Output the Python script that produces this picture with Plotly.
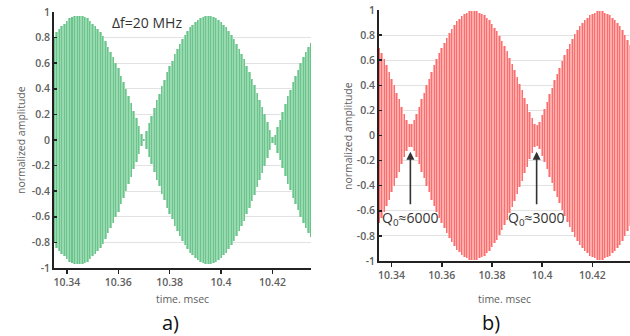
import numpy as np
import plotly.graph_objects as go

# time axis (msec), one sample per ~carrier cycle shown
time_a = [round(10.335 + 0.001 * k, 4) for k in range(101)]
time_b = [round(10.335 + 0.001 * k, 4) for k in range(101)]

# envelope amplitude read from panel a) (green)
amp_a = [0.80, 0.84, 0.87, 0.89, 0.91, 0.93, 0.95, 0.96, 0.97, 0.97,
         0.97, 0.97, 0.96, 0.95, 0.93, 0.91, 0.89, 0.87, 0.84, 0.81,
         0.77, 0.73, 0.69, 0.65, 0.60, 0.56, 0.50, 0.45, 0.40, 0.34,
         0.29, 0.23, 0.17, 0.11, 0.05, 0.01, 0.07, 0.13, 0.19, 0.25,
         0.31, 0.36, 0.42, 0.47, 0.53, 0.58, 0.62, 0.67, 0.71, 0.75,
         0.79, 0.82, 0.85, 0.88, 0.90, 0.92, 0.94, 0.95, 0.96, 0.97,
         0.97, 0.97, 0.96, 0.95, 0.94, 0.92, 0.90, 0.88, 0.85, 0.82,
         0.79, 0.75, 0.71, 0.67, 0.63, 0.58, 0.53, 0.48, 0.43, 0.37,
         0.31, 0.26, 0.20, 0.14, 0.08, 0.02, 0.04, 0.10, 0.16, 0.22,
         0.28, 0.34, 0.39, 0.45, 0.50, 0.55, 0.60, 0.65, 0.69, 0.73,
         0.76]

# envelope amplitude read from panel b) (red)
amp_b = [0.70, 0.66, 0.61, 0.56, 0.51, 0.45, 0.40, 0.34, 0.29, 0.23,
         0.17, 0.12, 0.09, 0.09, 0.12, 0.17, 0.23, 0.29, 0.34, 0.40,
         0.45, 0.51, 0.56, 0.61, 0.66, 0.70, 0.74, 0.78, 0.82, 0.85,
         0.88, 0.91, 0.93, 0.95, 0.97, 0.98, 0.99, 0.99, 0.99, 0.99,
         0.98, 0.97, 0.96, 0.94, 0.92, 0.89, 0.86, 0.83, 0.79, 0.75,
         0.71, 0.67, 0.62, 0.57, 0.52, 0.47, 0.41, 0.36, 0.30, 0.25,
         0.19, 0.14, 0.09, 0.08, 0.11, 0.16, 0.21, 0.27, 0.33, 0.38,
         0.44, 0.49, 0.54, 0.59, 0.64, 0.69, 0.73, 0.77, 0.81, 0.84,
         0.87, 0.90, 0.92, 0.94, 0.96, 0.97, 0.98, 0.99, 0.99, 0.99,
         0.98, 0.97, 0.96, 0.94, 0.92, 0.90, 0.87, 0.84, 0.80, 0.76,
         0.72]

x_tickvals = [10.34, 10.36, 10.38, 10.40, 10.42]
x_ticktext = ["10.34", "10.36", "10.38", "10.4", "10.42"]
y_tickvals = [-1, -0.8, -0.6, -0.4, -0.2, 0, 0.2, 0.4, 0.6, 0.8, 1]
y_ticktext = ["-1", "-0.8", "-0.6", "-0.4", "-0.2", "0", "0.2", "0.4", "0.6", "0.8", "1"]

FONT = "Open Sans, Noto Sans, sans-serif"
TICKCOL = "#606060"

fig = go.Figure()

def add_signal(t, a, xa, ya, light, dark):
    a = np.array(a)
    fig.add_trace(go.Bar(x=t, y=2 * a, base=-a, width=0.001,
                         marker=dict(color=light, line=dict(width=0)),
                         xaxis=xa, yaxis=ya, showlegend=False, hoverinfo="skip"))
    fig.add_trace(go.Bar(x=t, y=2 * a, base=-a, width=0.0004,
                         marker=dict(color=dark, line=dict(width=0)),
                         xaxis=xa, yaxis=ya, showlegend=False, hoverinfo="skip"))

add_signal(time_a, amp_a, "x", "y", "rgb(152,217,176)", "rgba(50,170,95,0.45)")
add_signal(time_b, amp_b, "x2", "y2", "rgb(255,172,172)", "rgba(245,60,60,0.55)")

def xaxis_style(domain, anchor):
    return dict(domain=domain, anchor=anchor, range=[10.335, 10.435], automargin=False,
                tickvals=x_tickvals, ticktext=x_ticktext, fixedrange=True,
                ticks="outside", ticklen=4, tickwidth=1.5, tickcolor="#222",
                showline=True, linecolor="#222", linewidth=1.8,
                showgrid=False, zeroline=False,
                tickfont=dict(family=FONT, size=10.5, color=TICKCOL, weight=600))

def yaxis_style(domain, anchor):
    return dict(domain=domain, anchor=anchor, range=[-1, 1], automargin=False,
                tickvals=y_tickvals, ticktext=y_ticktext, fixedrange=True,
                ticks="inside", ticklen=3, tickwidth=1.5, tickcolor="#222",
                showline=True, linecolor="#222", linewidth=1.8,
                showgrid=True, gridcolor="#e2e2e2", gridwidth=1, zeroline=False,
                tickfont=dict(family=FONT, size=10.5, color=TICKCOL, weight=600))

W, H = 630, 336
fig.update_layout(
    width=W, height=H, margin=dict(l=0, r=0, t=0, b=0, autoexpand=False),
    paper_bgcolor="white", plot_bgcolor="white",
    barmode="overlay", bargap=0, showlegend=False,
    xaxis=xaxis_style([54 / W, 311 / W], "y"),
    yaxis=yaxis_style([1 - 268 / H, 1 - 12 / H], "x"),
    xaxis2=xaxis_style([379 / W, 1.0], "y2"),
    yaxis2=yaxis_style([1 - 261 / H, 1 - 10 / H], "x2"),
)

def txt(x, y, s, size, color, angle=0):
    return dict(x=x / W, y=1 - y / H, xref="paper", yref="paper", text=s,
                xanchor="center", yanchor="middle", textangle=angle,
                showarrow=False, font=dict(family=FONT, size=size, color=color))

ann = []
ann.append(txt(182.5, 299, "time. msec", 10.5, TICKCOL))
ann.append(txt(504.5, 299, "time. msec", 10.5, TICKCOL))
ann.append(txt(21, 140, "normalized amplitude", 10.5, TICKCOL, -90))
ann.append(txt(348, 136, "normalized amplitude", 10.5, TICKCOL, -90))
ann.append(txt(170, 322, "a)", 20, "#111"))
ann.append(txt(491, 322, "b)", 20, "#111"))
ann.append(txt(147, 23, "Δf=20 MHz", 14, "#333"))
for xn in (10.3475, 10.3978):
    ann.append(dict(x=xn, y=-0.13, xref="x2", yref="y2", ax=xn, ay=-0.56,
                    axref="x2", ayref="y2", text="", showarrow=True,
                    arrowhead=2, arrowsize=1, arrowwidth=1.6, arrowcolor="#333"))
ann.append(dict(x=10.3475, y=-0.665, xref="x2", yref="y2", text="Q<sub>0</sub>≈6000",
                xanchor="center", yanchor="middle",
                showarrow=False, font=dict(family=FONT, size=14, color="#333")))
ann.append(dict(x=10.3978, y=-0.665, xref="x2", yref="y2", text="Q<sub>0</sub>≈3000",
                xanchor="center", yanchor="middle",
                showarrow=False, font=dict(family=FONT, size=14, color="#333")))
fig.update_layout(annotations=ann)

fig.write_html("out.html", config={"displayModeBar": False, "staticPlot": True},
               post_script="document.body.style.margin='0';document.body.style.padding='0';")
